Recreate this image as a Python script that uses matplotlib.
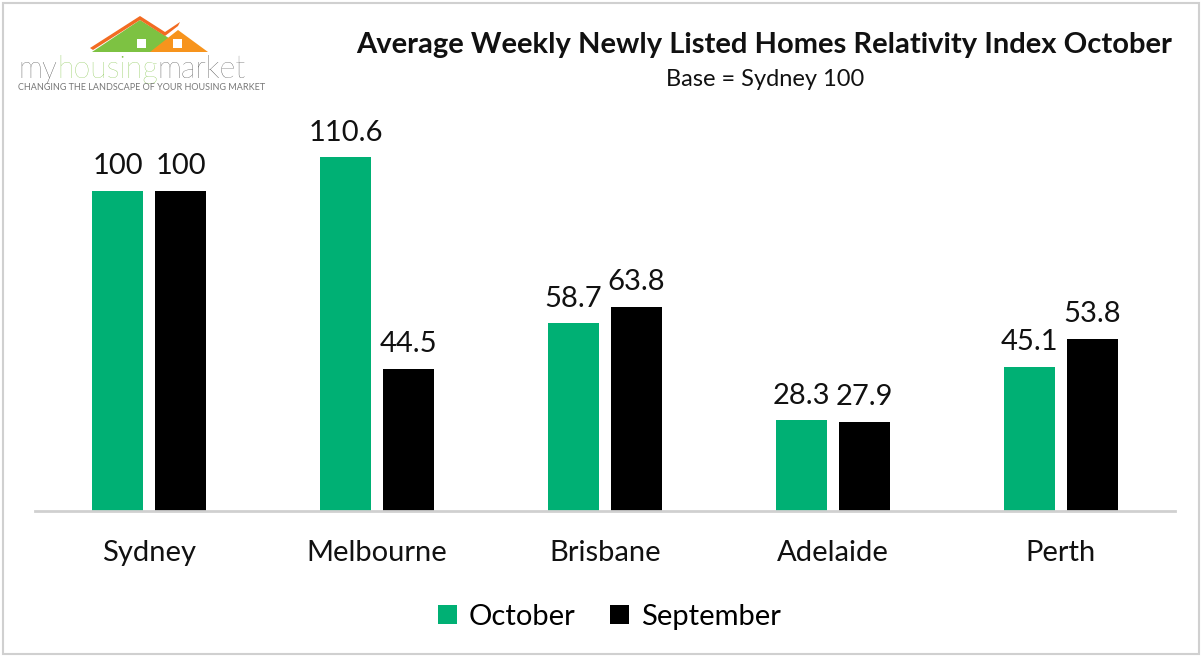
import matplotlib
matplotlib.use('Agg')
import matplotlib.pyplot as plt
import numpy as np
from matplotlib.patches import Polygon, Rectangle

# ---------------------------------------------------------------------------
# Data
# ---------------------------------------------------------------------------
cities = ['Sydney', 'Melbourne', 'Brisbane', 'Adelaide', 'Perth']
october = [100, 110.6, 58.7, 28.3, 45.1]
september = [100, 44.5, 63.8, 27.9, 53.8]
october_labels = ['100', '110.6', '58.7', '28.3', '45.1']
september_labels = ['100', '44.5', '63.8', '27.9', '53.8']

GREEN = '#00B074'
BLACK = '#000000'
FONT = ['Lato', 'DejaVu Sans']

plt.rcParams['font.family'] = FONT

fig = plt.figure(figsize=(12.02, 6.57), dpi=100)
W, H = 1202, 657


def fx(px):
    return px / W


def fy(py):
    return 1 - py / H


# outer frame
fig.patches.append(Rectangle((fx(3), fy(654)), fx(1196), 651 / H, transform=fig.transFigure,
                             fill=False, edgecolor='#d0d0d0', linewidth=1.5))

ax = fig.add_axes([fx(35), fy(511), fx(1140), (511 - 127) / H])
x = np.arange(len(cities))
bw = 0.224
off = 0.138
b1 = ax.bar(x - off, october, bw, color=GREEN, label='October')
b2 = ax.bar(x + off, september, bw, color=BLACK, label='September')

for rect, lab in zip(b1, october_labels):
    ax.text(rect.get_x() + rect.get_width() / 2, rect.get_height() + 3.6, lab,
            ha='center', va='bottom', fontsize=21, color='#111111')
for rect, lab in zip(b2, september_labels):
    ax.text(rect.get_x() + rect.get_width() / 2, rect.get_height() + 3.6, lab,
            ha='center', va='bottom', fontsize=21, color='#111111')

ax.set_xlim(-0.5, len(cities) - 0.5)
ax.set_ylim(0, 120)
ax.set_yticks([])
ax.set_xticks(x)
ax.set_xticklabels(cities, fontsize=21, color='#111111')
ax.tick_params(axis='x', length=0, pad=21)
for s in ['top', 'right', 'left']:
    ax.spines[s].set_visible(False)
ax.spines['bottom'].set_color('#d0d0d0')
ax.spines['bottom'].set_linewidth(2)

leg = fig.legend(handles=[b1, b2], labels=['October', 'September'], loc='center',
                 bbox_to_anchor=(fx(609), fy(617)), ncol=2, frameon=False, fontsize=21,
                 handlelength=0.65, handleheight=0.65, handletextpad=0.4, columnspacing=1.2)

# title
fig.text(fx(764), fy(45), 'Average Weekly Newly Listed Homes Relativity Index October',
         ha='center', va='center', fontsize=21, fontweight='bold', color='#111111')
fig.text(fx(765), fy(79), 'Base = Sydney 100', ha='center', va='center',
         fontsize=17, color='#111111')

# logo: roofs + wordmark
fig.patches.append(Polygon([(fx(92), fy(52)), (fx(140), fy(20)), (fx(180), fy(45)), (fx(172), fy(52))],
                           closed=True, transform=fig.transFigure, facecolor='#7dc242', edgecolor='none'))
fig.patches.append(Polygon([(fx(150), fy(52)), (fx(178), fy(30)), (fx(208), fy(52))],
                           closed=True, transform=fig.transFigure, facecolor='#f7941d', edgecolor='none'))
fig.patches.append(Polygon([(fx(90), fy(48)), (fx(140), fy(16)), (fx(165), fy(32)), (fx(180), fy(22)),
                            (fx(178), fy(26)), (fx(165), fy(36)), (fx(140), fy(20)), (fx(93), fy(50))],
                           closed=True, transform=fig.transFigure, facecolor='#f26b22', edgecolor='none'))
for wx in (137, 173):
    fig.patches.append(Rectangle((fx(wx), fy(48)), fx(9), 9 / H, transform=fig.transFigure,
                                 facecolor='white', edgecolor='none'))
t1 = fig.text(fx(18), fy(78), 'my', ha='left', va='baseline', fontsize=22, fontweight='light',
              color='#3a3a3a')
fig.canvas.draw()
r = fig.canvas.get_renderer()
e1 = t1.get_window_extent(r)
t2 = fig.text(e1.x1 / W, fy(78), 'housing', ha='left', va='baseline', fontsize=22,
              fontweight='light', color='#7dc242')
e2 = t2.get_window_extent(r)
fig.text(e2.x1 / W, fy(78), 'market', ha='left', va='baseline', fontsize=22, fontweight='light',
         color='#3a3a3a')
fig.text(fx(18), fy(88), 'CHANGING THE LANDSCAPE OF YOUR HOUSING MARKET', ha='left', va='center',
         fontsize=6.5, color='#777777')

fig.savefig('out.png', dpi=100)
